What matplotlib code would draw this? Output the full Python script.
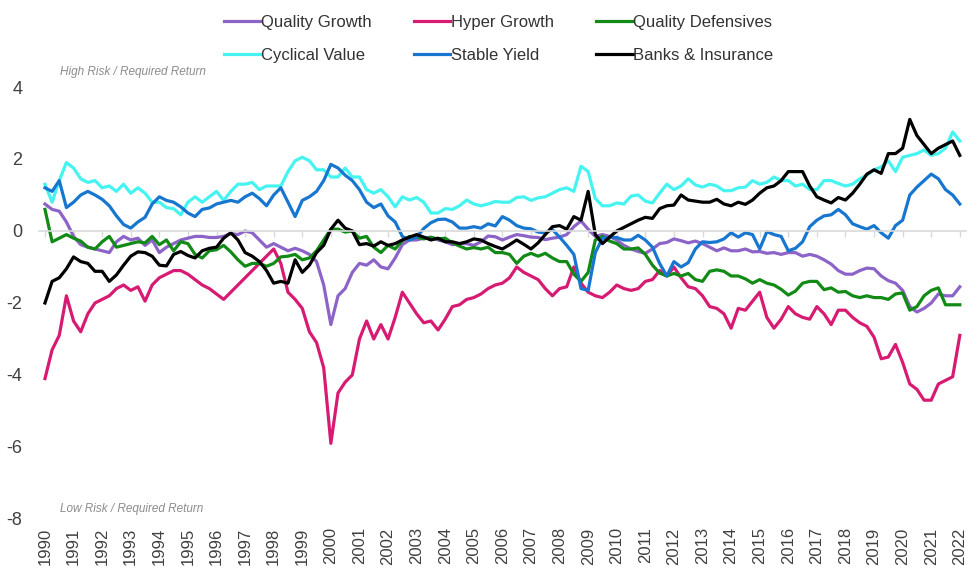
import matplotlib

matplotlib.use("Agg")

import matplotlib.pyplot as plt
import numpy as np

plt.rcParams["font.family"] = ["Liberation Sans", "DejaVu Sans"]
plt.rcParams["axes.unicode_minus"] = False

# quarterly readings, 1990Q1 .. 2022Q1
start_year = 1990
step = 0.25

quality_growth = [
    0.75, 0.6, 0.55, 0.25, -0.15, -0.38, -0.45, -0.5, -0.55, -0.6, -0.3, -0.15,
    -0.25, -0.2, -0.4, -0.25, -0.6, -0.45, -0.35, -0.25, -0.2, -0.15, -0.15, -0.18,
    -0.18, -0.15, -0.07, -0.1, 0.0, -0.05, -0.25, -0.45, -0.35, -0.45, -0.55, -0.48,
    -0.55, -0.65, -0.85, -1.5, -2.6, -1.8, -1.6, -1.15, -0.9, -0.95, -0.8, -1.0,
    -1.05, -0.75, -0.38, -0.25, -0.25, -0.2, -0.17, -0.25, -0.3, -0.38, -0.35, -0.35,
    -0.4, -0.3, -0.14, -0.16, -0.25, -0.17, -0.1, -0.13, -0.17, -0.18, -0.24, -0.2,
    -0.17, -0.1, 0.12, 0.28, 0.05, -0.15, -0.1, -0.15, -0.25, -0.4, -0.5, -0.57,
    -0.62, -0.5, -0.35, -0.32, -0.22, -0.27, -0.33, -0.28, -0.35, -0.45, -0.55, -0.47,
    -0.55, -0.55, -0.5, -0.58, -0.57, -0.62, -0.6, -0.65, -0.6, -0.6, -0.7, -0.65,
    -0.7, -0.8, -0.92, -1.1, -1.2, -1.2, -1.1, -1.03, -1.05, -1.25, -1.38, -1.45,
    -1.65, -2.1, -2.25, -2.15, -2.0, -1.75, -1.8, -1.8, -1.55,
]

hyper_growth = [
    -4.1, -3.3, -2.9, -1.8, -2.5, -2.8, -2.3, -2.0, -1.9, -1.8, -1.6, -1.5,
    -1.65, -1.55, -1.95, -1.5, -1.3, -1.2, -1.1, -1.1, -1.2, -1.35, -1.5, -1.6,
    -1.75, -1.9, -1.7, -1.5, -1.3, -1.1, -0.9, -0.7, -0.5, -0.9, -1.7, -1.9,
    -2.15, -2.8, -3.1, -3.8, -5.9, -4.5, -4.2, -4.0, -3.0, -2.5, -3.0, -2.6,
    -3.0, -2.4, -1.7, -2.0, -2.3, -2.55, -2.5, -2.75, -2.45, -2.1, -2.05, -1.9,
    -1.85, -1.75, -1.6, -1.5, -1.45, -1.3, -1.0, -1.15, -1.25, -1.35, -1.6, -1.8,
    -1.6, -1.55, -1.0, -1.45, -1.7, -1.8, -1.85, -1.7, -1.5, -1.6, -1.65, -1.6,
    -1.4, -1.35, -1.1, -1.25, -1.0, -1.3, -1.55, -1.6, -1.8, -2.1, -2.15, -2.3,
    -2.7, -2.15, -2.2, -1.95, -1.7, -2.4, -2.7, -2.45, -2.1, -2.3, -2.4, -2.45,
    -2.1, -2.3, -2.6, -2.2, -2.2, -2.4, -2.55, -2.65, -2.95, -3.55, -3.5, -3.15,
    -3.65, -4.25, -4.4, -4.7, -4.7, -4.25, -4.15, -4.05, -2.9,
]

quality_defensives = [
    0.6, -0.3, -0.2, -0.1, -0.2, -0.28, -0.45, -0.5, -0.3, -0.15, -0.45, -0.4,
    -0.35, -0.3, -0.33, -0.15, -0.38, -0.25, -0.55, -0.3, -0.35, -0.65, -0.75, -0.55,
    -0.52, -0.4, -0.58, -0.8, -0.98, -0.9, -0.9, -0.98, -0.9, -0.72, -0.7, -0.65,
    -0.8, -0.75, -0.55, -0.25, 0.05, 0.05, -0.03, 0.0, -0.2, -0.15, -0.45, -0.6,
    -0.4, -0.5, -0.27, -0.15, -0.17, -0.22, -0.18, -0.22, -0.2, -0.33, -0.42, -0.5,
    -0.46, -0.5, -0.45, -0.6, -0.6, -0.65, -0.9, -0.7, -0.62, -0.7, -0.62, -0.75,
    -0.85, -0.85, -1.2, -1.4, -1.15, -0.25, -0.15, -0.28, -0.35, -0.5, -0.5, -0.47,
    -0.65, -0.95, -1.17, -1.25, -1.18, -1.25, -1.18, -1.35, -1.4, -1.12, -1.08, -1.12,
    -1.25, -1.25, -1.33, -1.45, -1.35, -1.45, -1.5, -1.62, -1.78, -1.67, -1.45, -1.4,
    -1.4, -1.63, -1.58, -1.7, -1.68, -1.8, -1.85, -1.8, -1.85, -1.85, -1.9, -1.75,
    -1.72, -2.2, -2.1, -1.8, -1.65, -1.58, -2.05, -2.05, -2.05,
]

cyclical_value = [
    1.3, 0.8, 1.4, 1.9, 1.75, 1.45, 1.35, 1.4, 1.2, 1.25, 1.1, 1.3,
    1.05, 1.2, 1.05, 0.8, 0.8, 0.65, 0.62, 0.45, 0.8, 0.95, 0.8, 0.95,
    1.1, 0.85, 1.1, 1.3, 1.3, 1.35, 1.15, 1.25, 1.25, 1.25, 1.65, 1.95,
    2.05, 1.95, 1.7, 1.7, 1.5, 1.5, 1.75, 1.5, 1.5, 1.15, 1.05, 1.15,
    0.95, 0.67, 0.95, 0.86, 0.93, 0.8, 0.5, 0.5, 0.62, 0.6, 0.7, 0.86,
    0.75, 0.7, 0.75, 0.82, 0.8, 0.8, 0.93, 0.95, 0.85, 0.92, 0.95, 1.05,
    1.15, 1.2, 1.1, 1.8, 1.65, 0.9, 0.7, 0.7, 0.78, 0.75, 0.97, 1.0,
    0.83, 0.78, 1.05, 1.3, 1.15, 1.25, 1.45, 1.28, 1.22, 1.3, 1.25, 1.12,
    1.12, 1.2, 1.22, 1.4, 1.3, 1.35, 1.5, 1.4, 1.4, 1.25, 1.3, 1.15,
    1.15, 1.4, 1.4, 1.32, 1.25, 1.3, 1.45, 1.55, 1.7, 1.78, 1.95, 1.65,
    2.05, 2.1, 2.15, 2.25, 2.1, 2.15, 2.3, 2.75, 2.5,
]

stable_yield = [
    1.2, 1.1, 1.4, 0.65, 0.8, 1.0, 1.1, 1.0, 0.88, 0.7, 0.42, 0.18,
    0.08, 0.25, 0.38, 0.75, 0.95, 0.85, 0.8, 0.67, 0.5, 0.4, 0.6, 0.64,
    0.75, 0.8, 0.85, 0.8, 0.95, 1.05, 0.9, 0.7, 1.0, 1.2, 0.8, 0.4,
    0.85, 0.95, 1.1, 1.4, 1.85, 1.75, 1.55, 1.4, 1.15, 0.8, 0.65, 0.75,
    0.42, 0.25, -0.15, -0.25, -0.17, 0.07, 0.23, 0.32, 0.33, 0.25, 0.08, 0.08,
    0.12, 0.08, 0.2, 0.14, 0.4, 0.3, 0.15, 0.08, 0.06, -0.03, -0.05, 0.04,
    -0.17, -0.4, -0.65, -1.6, -1.65, -0.6, -0.2, -0.18, -0.18, -0.25, -0.25, -0.12,
    -0.25, -0.45, -0.9, -1.25, -0.85, -1.0, -0.88, -0.5, -0.3, -0.32, -0.3, -0.22,
    -0.05, -0.17, -0.05, -0.1, -0.5, -0.02, -0.1, -0.15, -0.55, -0.48, -0.3, 0.12,
    0.3, 0.42, 0.45, 0.6, 0.45, 0.2, 0.12, 0.05, 0.15, -0.05, -0.2, 0.15,
    0.3, 1.0, 1.22, 1.4, 1.58, 1.45, 1.15, 1.0, 0.75,
]

banks_insurance = [
    -2.0, -1.4, -1.3, -1.05, -0.72, -0.85, -0.9, -1.12, -1.12, -1.4, -1.22, -0.95,
    -0.7, -0.58, -0.6, -0.7, -0.95, -0.97, -0.65, -0.57, -0.68, -0.75, -0.55, -0.48,
    -0.45, -0.2, -0.05, -0.25, -0.6, -0.7, -0.85, -1.1, -1.45, -1.4, -1.45, -0.8,
    -1.15, -0.95, -0.6, -0.4, 0.05, 0.3, 0.08, 0.0, -0.38, -0.35, -0.42, -0.3,
    -0.4, -0.35, -0.25, -0.17, -0.1, -0.17, -0.25, -0.2, -0.3, -0.3, -0.35, -0.3,
    -0.22, -0.25, -0.35, -0.43, -0.5, -0.38, -0.25, -0.37, -0.5, -0.33, -0.1, 0.12,
    0.15, 0.05, 0.4, 0.3, 1.1, -0.1, -0.35, -0.17, 0.0, 0.1, 0.2, 0.3,
    0.38, 0.35, 0.62, 0.7, 0.72, 1.0, 0.86, 0.83, 0.8, 0.8, 0.88, 0.75,
    0.7, 0.8, 0.74, 0.86, 1.05, 1.2, 1.25, 1.4, 1.65, 1.65, 1.65, 1.25,
    0.95, 0.86, 0.78, 0.93, 0.86, 1.05, 1.3, 1.58, 1.7, 1.6, 2.15, 2.15,
    2.3, 3.1, 2.65, 2.4, 2.15, 2.3, 2.4, 2.5, 2.1,
]

series = [
    ("Quality Growth", quality_growth, "#8c64c8"),
    ("Hyper Growth", hyper_growth, "#d81b72"),
    ("Quality Defensives", quality_defensives, "#128a16"),
    ("Cyclical Value", cyclical_value, "#45f4f0"),
    ("Stable Yield", stable_yield, "#1776d0"),
    ("Banks & Insurance", banks_insurance, "#000000"),
]

year_ticks = list(range(1990, 2023))
y_ticks = [4, 2, 0, -2, -4, -6, -8]

dates = start_year + step * np.arange(len(quality_growth))

fig = plt.figure(figsize=(9.74, 5.72), dpi=100)
ax = fig.add_axes([0.0403, 0.0927, 0.951, 0.7552])

lines = []
for name, values, color in series:
    (line,) = ax.plot(dates, values, color=color, linewidth=2.3, label=name, solid_joinstyle="round")
    lines.append(line)

ax.set_xlim(1989.8, 2022.2)
ax.set_ylim(-8, 4)

for side in ["top", "right", "left"]:
    ax.spines[side].set_visible(False)
ax.spines["bottom"].set_position(("data", 0))
ax.spines["bottom"].set_color("#d9d9d9")
ax.spines["bottom"].set_linewidth(1.2)
ax.set_xticks(year_ticks)
ax.tick_params(axis="x", direction="out", length=4, width=1.0, color="#d9d9d9", labelbottom=False)
ax.set_yticks(y_ticks)
ax.tick_params(axis="y", length=0, pad=12, labelsize=13, labelcolor="#404040")

labels_ax = ax.secondary_xaxis("bottom")
labels_ax.set_xticks(year_ticks, [str(y) for y in year_ticks], rotation=90)
labels_ax.tick_params(length=0, pad=6, labelsize=12, labelcolor="#404040")
labels_ax.spines["bottom"].set_visible(False)

ax.text(0.022, 1.035, "High Risk / Required Return", transform=ax.transAxes,
        fontsize=8.5, style="italic", color="#8c8c8c", va="center", ha="left")
ax.text(0.022, 0.023, "Low Risk / Required Return", transform=ax.transAxes,
        fontsize=8.5, style="italic", color="#8c8c8c", va="center", ha="left")

# legend reads row by row: reorder for matplotlib's column filling
order = [0, 3, 1, 4, 2, 5]
ax.legend([lines[i] for i in order], [series[i][0] for i in order],
          loc="upper center", bbox_to_anchor=(0.512, 1.0), bbox_transform=fig.transFigure,
          ncol=3, frameon=False, fontsize=12, handlelength=2.2, handletextpad=0.05,
          columnspacing=2.5, labelspacing=1.05, labelcolor="#333333")

fig.savefig("out.png", dpi=100)
